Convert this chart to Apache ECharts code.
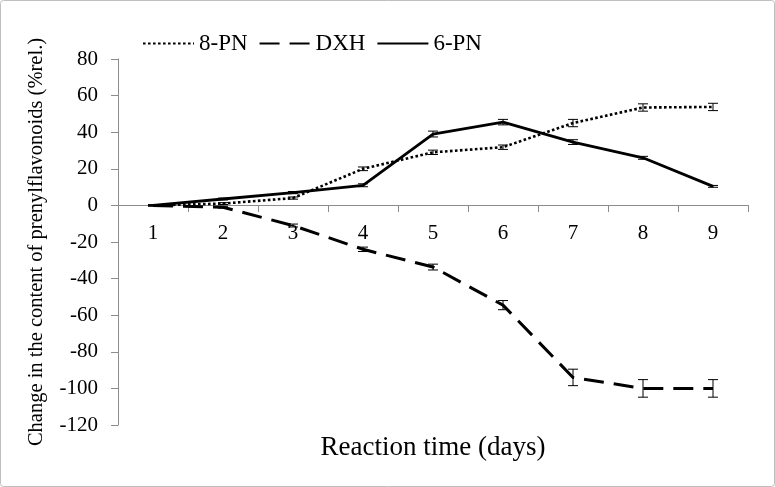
<!DOCTYPE html>
<html><head><meta charset="utf-8">
<script src="https://cdn.jsdelivr.net/npm/echarts@6/dist/echarts.min.js"></script>
<style>html,body{margin:0;padding:0;background:#fff}#c{width:775px;height:487px}</style>
</head><body><div id="c"></div>
<script>
var days = ['1','2','3','4','5','6','7','8','9'];
var pn8 = [0, 1, 4, 20, 29, 31.8, 45, 53.5, 53.8];
var pn8Err = [0.3, 0.5, 0.6, 1, 1.2, 1.2, 2, 2, 2];
var dxh = [0, -1, -11, -24, -33.7, -54.5, -94, -100, -100];
var dxhErr = [0.3, 0.5, 0.8, 1.2, 1.6, 2.5, 4.5, 4.8, 4.8];
var pn6 = [0, 3.5, 7, 11, 39, 45.5, 34.6, 26, 10.4];
var pn6Err = [0.3, 0.5, 0.6, 0.8, 1.6, 1.5, 1.3, 0.8, 0.5];
var yTicks = [-120, -100, -80, -60, -40, -20, 0, 20, 40, 60, 80];

function errSeries(vals, errs) {
  return {
    type: 'custom',
    silent: true,
    z: 5,
    data: vals.map(function (v, i) { return [i, v - errs[i], v + errs[i]]; }),
    renderItem: function (params, api) {
      var lo = api.coord([api.value(0), api.value(1)]);
      var hi = api.coord([api.value(0), api.value(2)]);
      var w = 5;
      var st = { stroke: '#000', lineWidth: 1 };
      return { type: 'group', children: [
        { type: 'line', shape: { x1: lo[0], y1: lo[1], x2: hi[0], y2: hi[1] }, style: st },
        { type: 'line', shape: { x1: lo[0] - w, y1: lo[1], x2: lo[0] + w, y2: lo[1] }, style: st },
        { type: 'line', shape: { x1: hi[0] - w, y1: hi[1], x2: hi[0] + w, y2: hi[1] }, style: st }
      ]};
    }
  };
}

var chart = echarts.init(document.getElementById('c'));
var font = '"Liberation Serif","Times New Roman",serif';
chart.setOption({
  animation: false,
  textStyle: { fontFamily: font },
  graphic: [{ type: 'rect', shape: { x: 0.5, y: 0.5, width: 774, height: 486, r: 3 }, style: { fill: 'none', stroke: '#bfbfbf', lineWidth: 1 }, z: -1 }],
  legend: {
    left: 137, top: 27, itemWidth: 51, itemHeight: 14, itemGap: 11,
    itemStyle: { opacity: 0 },
    textStyle: { fontFamily: font, fontSize: 23, color: '#000' },
    data: ['8-PN', 'DXH', '6-PN']
  },
  grid: { left: 118, right: 27, top: 59, bottom: 62, containLabel: false, outerBoundsMode: 'none' },
  xAxis: {
    type: 'category', data: days, boundaryGap: true, offset: -220,
    name: 'Reaction time (days)', nameLocation: 'middle', nameGap: 229,
    nameTextStyle: { fontFamily: font, fontSize: 27, color: '#000' },
    axisLine: { onZero: false, lineStyle: { color: '#8c8c8c', width: 1 } },
    axisTick: { show: true, length: 7, inside: false, lineStyle: { color: '#8c8c8c' } },
    axisLabel: { fontFamily: font, fontSize: 21, color: '#000', margin: 18 }
  },
  yAxis: {
    type: 'value', min: -120, max: 80, interval: 20,
    name: 'Change in the content of prenylflavonoids (%rel.)', nameLocation: 'middle', nameGap: 71,
    nameTextStyle: { fontFamily: font, fontSize: 20.5, color: '#000' },
    axisLine: { show: true, lineStyle: { color: '#8c8c8c', width: 1 } },
    axisTick: { show: true, length: 7, lineStyle: { color: '#8c8c8c' } },
    splitLine: { show: false },
    axisLabel: { fontFamily: font, fontSize: 21, color: '#000', margin: 20,
      formatter: function (v) { return yTicks.indexOf(v) >= 0 ? String(v) : ''; } }
  },
  series: [
    { name: '8-PN', type: 'line', data: pn8, symbol: 'none', z: 3,
      lineStyle: { color: '#000', width: 2.6, type: [2.6, 2.4] }, itemStyle: { color: '#000' } },
    { name: 'DXH', type: 'line', data: dxh, symbol: 'none', z: 3,
      lineStyle: { color: '#000', width: 3, type: [20, 10] }, itemStyle: { color: '#000' } },
    { name: '6-PN', type: 'line', data: pn6, symbol: 'none', z: 3,
      lineStyle: { color: '#000', width: 2.8 }, itemStyle: { color: '#000' } },
    errSeries(pn8, pn8Err),
    errSeries(dxh, dxhErr),
    errSeries(pn6, pn6Err)
  ]
});
</script></body></html>
